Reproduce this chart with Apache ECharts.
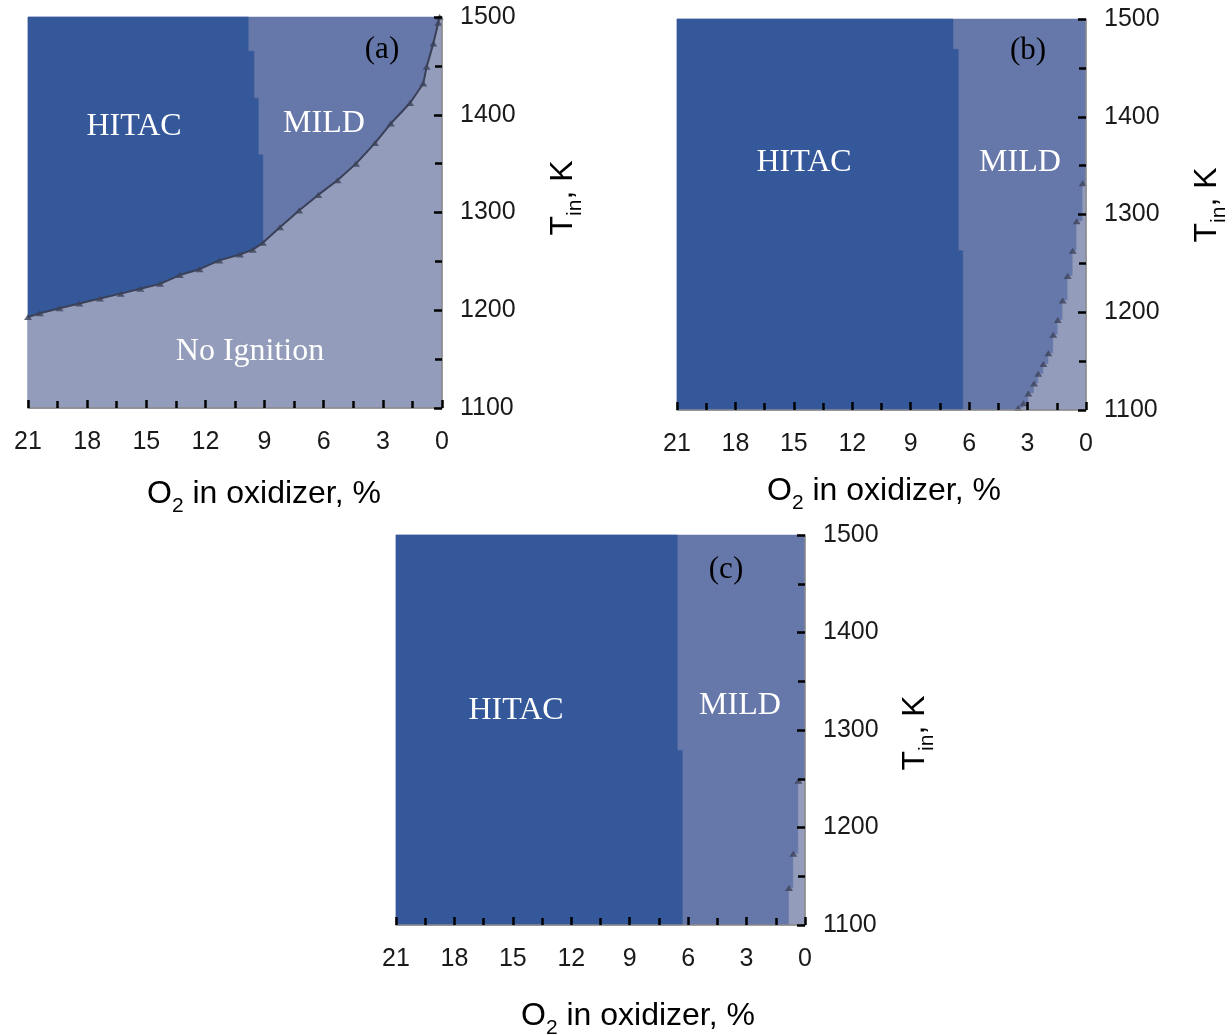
<!DOCTYPE html>
<html><head><meta charset="utf-8">
<script src="https://cdn.jsdelivr.net/npm/echarts@6/dist/echarts.min.js"></script>
<style>html,body{margin:0;padding:0;background:#fff}#c{width:1232px;height:1035px}</style>
</head><body><div id="c"></div>
<script>
// ---- data ----
const xTickLabels = [21, 18, 15, 12, 9, 6, 3, 0];        // O2 in oxidizer, %
const yTickLabels = [1100, 1200, 1300, 1400, 1500];      // T_in, K
const regionNames = ['HITAC', 'MILD', 'No Ignition'];
const panelNames = ['(a)', '(b)', '(c)'];

// HITAC / MILD boundary: [O2 %, lower T of the vertical segment at that O2]
const hitacEdgeA = [[9.83, 1465], [9.54, 1417], [9.32, 1359], [9.09, 1100]];
const hitacEdgeB = [[6.83, 1469], [6.56, 1263], [6.33, 1100]];
const hitacEdgeC = [[6.56, 1279], [6.30, 1100]];

// Ignition limit: [O2 %, T]; the region below / right of it is "No Ignition"
const ignitionA = [[21.0, 1193], [20.4, 1197], [19.4, 1202], [18.4, 1207], [17.35, 1212], [16.3, 1217],
  [15.3, 1222], [14.3, 1227], [13.3, 1236], [12.3, 1242], [11.3, 1251], [10.25, 1257], [9.6, 1262],
  [9.09, 1269], [8.22, 1285], [7.25, 1302], [6.28, 1318], [5.3, 1333], [4.36, 1350], [3.4, 1371],
  [2.6, 1391], [1.62, 1412], [0.95, 1432], [0.78, 1449], [0.44, 1473], [0.19, 1494], [0.12, 1500]];
const ignitionB = [[3.48, 1102], [3.21, 1107], [2.96, 1117], [2.67, 1127], [2.45, 1137], [2.19, 1147],
  [1.93, 1158], [1.68, 1177], [1.45, 1192], [1.20, 1212], [0.94, 1237], [0.68, 1263], [0.48, 1293], [0.17, 1332]];
const ignitionC = [[0.82, 1138], [0.60, 1173], [0.34, 1248]];

// ---- styling / layout ----
const COL_HITAC = '#345899', COL_MILD = '#6677aa', COL_NOIGN = '#939cba';
const X_MIN = Math.min(...xTickLabels), X_MAX = Math.max(...xTickLabels);
const Y_MIN = Math.min(...yTickLabels), Y_MAX = Math.max(...yTickLabels);

const panels = [
  { grid: { left: 28, top: 17, width: 414, height: 391 }, hitac: hitacEdgeA, ign: ignitionA, stepped: false, edgeLine: true,
    texts: [[regionNames[0], 134, 127], [regionNames[1], 324, 124], [regionNames[2], 250, 352]], tag: [382, 50],
    xTitle: [264, 494], yTitle: [563, 198] },
  { grid: { left: 677, top: 19, width: 409, height: 391 }, hitac: hitacEdgeB, ign: ignitionB, stepped: true, edgeLine: false,
    texts: [[regionNames[0], 804, 163], [regionNames[1], 1020, 163]], tag: [1028, 51],
    xTitle: [884, 491], yTitle: [1207, 205] },
  { grid: { left: 396, top: 535, width: 409, height: 390 }, hitac: hitacEdgeC, ign: ignitionC, stepped: true, edgeLine: false,
    texts: [[regionNames[0], 516, 711], [regionNames[1], 740, 706]], tag: [726, 570],
    xTitle: [638, 1016], yTitle: [915, 733] }
];

function rectPts() { return [[X_MAX, Y_MAX], [X_MIN, Y_MAX], [X_MIN, Y_MIN], [X_MAX, Y_MIN]]; }
function hitacPts(edge) {
  const pts = [[X_MAX, Y_MAX], [edge[0][0], Y_MAX]];
  for (let i = 0; i < edge.length; i++) {
    pts.push([edge[i][0], edge[i][1]]);
    if (i + 1 < edge.length) pts.push([edge[i + 1][0], edge[i][1]]);
  }
  pts.push([X_MAX, Y_MIN]);
  return pts;
}
function ignPts(ign, stepped) {
  const pts = [[ign[0][0], Y_MIN]];
  for (let i = 0; i < ign.length; i++) {
    pts.push([ign[i][0], ign[i][1]]);
    if (stepped && i + 1 < ign.length) pts.push([ign[i + 1][0], ign[i][1]]);
  }
  pts.push([X_MIN, ign[ign.length - 1][1]]);
  pts.push([X_MIN, Y_MIN]);
  return pts;
}
function polySeries(idx, pts, fill) {
  return {
    type: 'custom', xAxisIndex: idx, yAxisIndex: idx, silent: true, animation: false, z: 1,
    data: [[X_MIN, Y_MIN]],
    renderItem: function (params, api) {
      return { type: 'polygon', shape: { points: pts.map(p => api.coord(p)) }, style: { fill: fill, stroke: fill, lineWidth: 0.5 } };
    }
  };
}

const grids = [], xAxes = [], yAxes = [], series = [], graphics = [];
const tickFont = { color: '#1a1a1a', fontSize: 25, fontFamily: 'Liberation Sans' };
panels.forEach((p, i) => {
  grids.push(Object.assign({ containLabel: false }, p.grid));
  xAxes.push({
    gridIndex: i, type: 'value', min: X_MIN, max: X_MAX, interval: 3, inverse: true, z: 20,
    axisLine: { show: true, onZero: false, lineStyle: { color: '#8a8a8a', width: 1.5 } },
    axisTick: { show: true, inside: true, length: 8, lineStyle: { color: '#000', width: 2.5 } },
    minorTick: { show: true, splitNumber: 2, length: 7, lineStyle: { color: '#000', width: 2.5 } },
    axisLabel: Object.assign({ margin: 22, formatter: v => xTickLabels.includes(v) ? String(v) : '' }, tickFont),
    splitLine: { show: false }, minorSplitLine: { show: false }
  });
  yAxes.push({
    gridIndex: i, type: 'value', position: 'right', min: Y_MIN, max: Y_MAX, interval: 100, z: 20,
    axisLine: { show: true, onZero: false, lineStyle: { color: '#8a8a8a', width: 1.5 } },
    axisTick: { show: true, inside: true, length: 8, lineStyle: { color: '#000', width: 2.5 } },
    minorTick: { show: true, splitNumber: 2, length: 7, lineStyle: { color: '#000', width: 2.5 } },
    axisLabel: Object.assign({ margin: 18, formatter: v => yTickLabels.includes(v) ? String(v) : '' }, tickFont),
    splitLine: { show: false }, minorSplitLine: { show: false }
  });
  series.push(polySeries(i, rectPts(), COL_MILD));
  series.push(polySeries(i, hitacPts(p.hitac), COL_HITAC));
  series.push(polySeries(i, ignPts(p.ign, p.stepped), COL_NOIGN));
  if (p.edgeLine) {
    series.push({ type: 'line', xAxisIndex: i, yAxisIndex: i, data: p.ign, showSymbol: false, silent: true, animation: false, z: 2,
      lineStyle: { color: '#3a4058', width: 2 } });
  }
  series.push({ type: 'scatter', xAxisIndex: i, yAxisIndex: i, data: p.ign, symbol: 'triangle', symbolSize: [8, 6], z: 3,
    silent: true, animation: false, itemStyle: { color: '#3c4259' } });

  p.texts.forEach(t => graphics.push({ type: 'text', x: t[1], y: t[2], z: 100,
    style: { text: t[0], fill: '#ffffff', fontSize: 32, fontFamily: 'Liberation Serif', align: 'center', verticalAlign: 'middle' } }));
  graphics.push({ type: 'text', x: p.tag[0], y: p.tag[1], z: 100,
    style: { text: panelNames[i], fill: '#000', fontSize: 31, fontFamily: 'Liberation Serif', align: 'center', verticalAlign: 'middle' } });
  const rich = {
    m: { fontSize: 32, fontFamily: 'Liberation Sans', lineHeight: 32, verticalAlign: 'top', fill: '#000' },
    s: { fontSize: 21, fontFamily: 'Liberation Sans', lineHeight: 21, verticalAlign: 'top', padding: [18, 0, 0, 0], fill: '#000' }
  };
  graphics.push({ type: 'text', x: p.xTitle[0], y: p.xTitle[1], z: 100,
    style: { text: '{m|O}{s|2}{m| in oxidizer, %}', rich: rich, align: 'center', verticalAlign: 'middle' } });
  graphics.push({ type: 'text', x: p.yTitle[0], y: p.yTitle[1], rotation: Math.PI / 2, z: 100,
    style: { text: '{m|T}{s|in}{m|, K}', rich: rich, align: 'center', verticalAlign: 'middle' } });
});

const chart = echarts.init(document.getElementById('c'), null, { renderer: 'canvas' });
chart.setOption({ animation: false, grid: grids, xAxis: xAxes, yAxis: yAxes, series: series, graphic: graphics });
</script></body></html>
